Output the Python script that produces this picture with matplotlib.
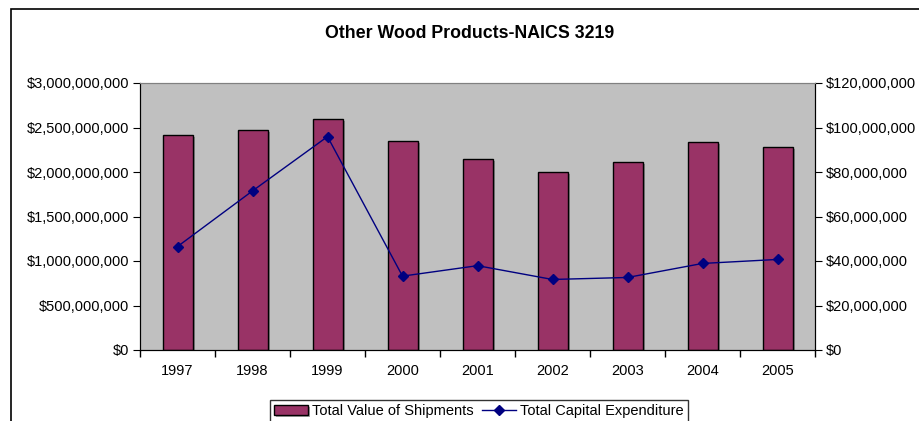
import numpy as np
import matplotlib.pyplot as plt
import matplotlib.patches as patches
import matplotlib.patheffects as pe
from matplotlib.ticker import FuncFormatter

plt.rcParams['font.family'] = ['Liberation Sans', 'DejaVu Sans']

# data
years = ['1997', '1998', '1999', '2000', '2001', '2002', '2003', '2004', '2005']
shipments = [2.413e9, 2.47e9, 2.594e9, 2.346e9, 2.143e9, 1.996e9, 2.109e9, 2.335e9, 2.278e9]
capex = [46.5e6, 71.5e6, 95.9e6, 33.2e6, 37.9e6, 31.7e6, 32.6e6, 38.9e6, 40.7e6]

fig = plt.figure(figsize=(9.19, 4.21), dpi=100)
ax = fig.add_axes([140/919, 1 - 350/421, 675/919, 267/421])
ax.set_facecolor('#c0c0c0')

x = np.arange(len(years))
bars = ax.bar(x, shipments, width=0.40, color='#993366', edgecolor='black', lw=1,
              label='Total Value of Shipments', zorder=2)
for b in bars:
    b.set_path_effects([pe.SimplePatchShadow(offset=(1.5, -1.5), shadow_rgbFace='#505050', alpha=0.5),
                        pe.Normal()])
ax.set_xlim(-0.5, len(years) - 0.5)
ax.set_ylim(0, 3e9)
ax.set_yticks(np.arange(0, 3.01e9, 5e8))
ax.yaxis.set_major_formatter(FuncFormatter(lambda v, p: '${:,.0f}'.format(v)))
ax.set_xticks(x)
ax.set_xticklabels(years)
ax.set_xticks(np.arange(-0.5, len(years)), minor=True)
ax.tick_params(axis='x', which='major', length=0, pad=10, labelsize=10.5)
ax.tick_params(axis='x', which='minor', length=5, direction='out', width=1)
ax.tick_params(axis='y', length=5, direction='out', labelsize=10.5, pad=3)

ax2 = ax.twinx()
line, = ax2.plot(x, capex, color='#000080', lw=1, marker='D', markersize=5.5,
                 label='Total Capital Expenditure', zorder=3)
ax2.set_ylim(0, 120e6)
ax2.set_yticks(np.arange(0, 120.1e6, 20e6))
ax2.yaxis.set_major_formatter(FuncFormatter(lambda v, p: '${:,.0f}'.format(v)))
ax2.tick_params(axis='y', length=5, direction='out', labelsize=10.5, pad=3)

for a in (ax, ax2):
    a.spines['top'].set_color('#808080')
    a.spines['left'].set_color('black')
    a.spines['right'].set_color('black')
    a.spines['bottom'].set_color('black')

fig.text(470/919, 1 - 34/421, 'Other Wood Products-NAICS 3219', ha='center', va='center',
         fontsize=12.8, fontweight='bold')

leg = fig.legend([bars, line], ['Total Value of Shipments', 'Total Capital Expenditure'],
                 loc='center', bbox_to_anchor=(479/919, 1 - 411/421), ncol=2,
                 fontsize=10.5, frameon=True, fancybox=False, edgecolor='black',
                 handlelength=2.3, handletextpad=0.3, columnspacing=0.6,
                 borderpad=0.3)
leg.get_frame().set_linewidth(1)

# outer chart frame, cut off at right and bottom like the original
fig.patches.append(patches.Rectangle((11/919, -0.1), 1.0, 1.1 - 9/421, transform=fig.transFigure,
                                     fill=False, edgecolor='black', lw=1.2))

fig.savefig('out.png', dpi=100)
